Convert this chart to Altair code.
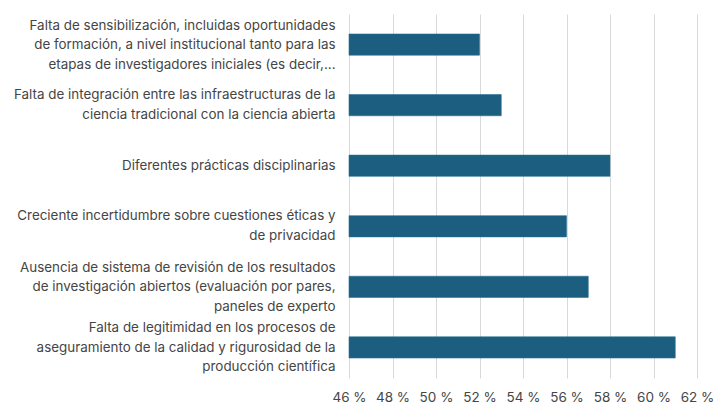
import altair as alt
import pandas as pd

categories = [
    "Falta de sensibilización, incluidas oportunidades|de formación, a nivel institucional tanto para las|etapas de investigadores iniciales (es decir,...",
    "Falta de integración entre las infraestructuras de la|ciencia tradicional con la ciencia abierta",
    "Diferentes prácticas disciplinarias",
    "Creciente incertidumbre sobre cuestiones éticas y|de privacidad",
    "Ausencia de sistema de revisión de los resultados|de investigación abiertos (evaluación por pares,|paneles de experto",
    "Falta de legitimidad en los procesos de|aseguramiento de la calidad y rigurosidad de la|producción científica",
]
values = [52, 53, 58, 56, 57, 61]
x_ticks = [46, 48, 50, 52, 54, 56, 58, 60, 62]
x_min = 46

df = pd.DataFrame({"cat": categories, "val": values})

FONT = "Inter"
TEXT = "#454545"

chart = (
    alt.Chart(df)
    .mark_bar(color="#1B5E80", stroke="#2A6F90", strokeWidth=0.6)
    .encode(
        y=alt.Y(
            "cat:N",
            sort=categories,
            title=None,
            scale=alt.Scale(paddingInner=0.65, paddingOuter=0.33),
            axis=alt.Axis(
                labelExpr="split(datum.label, '|')",
                labelLineHeight=19.5,
                labelFontSize=13.4,
                labelColor=TEXT,
                labelFont=FONT,
                labelPadding=14,
                labelLimit=400,
                labelOffset={
                    "condition": [
                        {"test": "length(split(datum.value, '|')) == 3", "value": -19},
                        {"test": "length(split(datum.value, '|')) == 2", "value": -10},
                    ],
                    "value": 0,
                },
                ticks=False,
                domain=False,
                grid=False,
            ),
        ),
        x=alt.X(
            "val:Q",
            title=None,
            scale=alt.Scale(domain=[46, 62], zero=False, nice=False),
            axis=alt.Axis(
                values=x_ticks,
                labelExpr="datum.value + ' %'",
                labelFontSize=13.5,
                labelColor=TEXT,
                labelFont=FONT,
                labelPadding=12,
                labelOverlap=False,
                labelFlush=False,
                ticks=False,
                domain=False,
                grid=True,
                gridColor="#D9D9D9",
                gridWidth=1,
            ),
        ),
        x2=alt.datum(x_min),
    )
    .properties(
        width=348,
        height=364,
        autosize=alt.AutoSizeParams(type="none"),
        padding={"left": 341, "top": 6, "right": 17, "bottom": 30},
    )
    .configure_view(stroke=None)
)

chart.save("out.html", embed_options={"renderer": "svg", "actions": False})
